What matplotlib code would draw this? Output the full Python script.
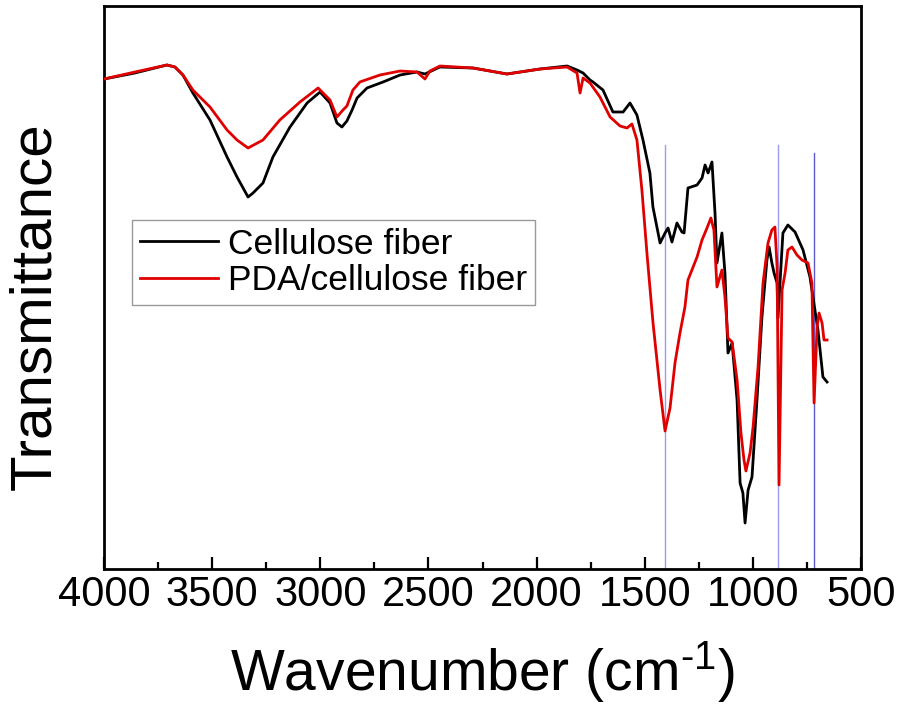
import matplotlib
matplotlib.use("Agg")
import matplotlib.pyplot as plt
from matplotlib.ticker import MultipleLocator

plt.rcParams['font.family'] = ['Liberation Sans', 'DejaVu Sans']
plt.rcParams['mathtext.fontset'] = 'custom'
plt.rcParams['mathtext.rm'] = 'Liberation Sans'
plt.rcParams['mathtext.it'] = 'Liberation Sans'
plt.rcParams['mathtext.default'] = 'regular'

# Wavenumber (cm-1) and transmittance (arbitrary units)
cell_wn = [4000, 3857, 3709, 3672, 3635, 3589, 3510, 3431, 3385, 3334, 3311, 3265, 3219, 3140,
           3061, 3001, 2955, 2923, 2900, 2877, 2853, 2830, 2784, 2710, 2631, 2553, 2516, 2447,
           2294, 2137, 1984, 1859, 1813, 1785, 1753, 1739, 1693, 1647, 1600, 1568, 1536, 1508,
           1476, 1462, 1429, 1406, 1392, 1374, 1351, 1328, 1318, 1300, 1258, 1235, 1221, 1207,
           1189, 1175, 1166, 1143, 1129, 1115, 1096, 1073, 1059, 1046, 1036, 1022, 1004, 981,
           958, 935, 925, 912, 902, 888, 884, 861, 838, 805, 768, 736, 713, 699, 676, 657]
cell_t = [490, 496, 504, 502, 494, 476, 449, 412, 392, 372, 376, 386, 412, 442,
          466, 477, 466, 446, 442, 448, 459, 471, 481, 487, 494, 497, 495, 502,
          501, 495, 500, 503, 499, 496, 489, 487, 479, 457, 457, 466, 454, 429,
          396, 362, 326, 336, 341, 327, 346, 337, 336, 381, 384, 391, 404, 396,
          407, 356, 306, 336, 296, 216, 226, 169, 86, 76, 46, 79, 92, 169,
          252, 309, 322, 306, 296, 286, 251, 336, 344, 337, 319, 292, 259, 239, 192, 187]

pda_wn = [4000, 3857, 3709, 3672, 3635, 3589, 3510, 3431, 3385, 3334, 3265, 3187, 3094, 3010,
          2955, 2923, 2895, 2877, 2849, 2817, 2724, 2631, 2553, 2516, 2493, 2447, 2294, 2137,
          1984, 1859, 1813, 1799, 1785, 1753, 1707, 1660, 1614, 1582, 1559, 1536, 1513, 1489,
          1462, 1429, 1406, 1383, 1360, 1337, 1314, 1300, 1258, 1235, 1212, 1194, 1180, 1166,
          1143, 1129, 1115, 1096, 1073, 1055, 1041, 1032, 1013, 999, 976, 953, 930, 912,
          898, 888, 879, 865, 851, 838, 819, 796, 773, 745, 727, 717, 703, 694, 680, 671, 657]
pda_t = [490, 497, 504, 502, 494, 479, 462, 439, 429, 421, 429, 449, 467, 481,
         469, 452, 459, 463, 479, 487, 494, 498, 497, 490, 498, 503, 501, 495,
         500, 502, 496, 476, 491, 486, 472, 452, 443, 441, 445, 429, 379, 314,
         247, 179, 138, 161, 206, 236, 262, 289, 312, 329, 341, 351, 339, 282,
         299, 272, 231, 227, 189, 136, 109, 98, 116, 142, 202, 286, 326, 339,
         342, 302, 84, 279, 296, 319, 322, 314, 309, 306, 286, 166, 242, 256, 246, 229, 229]

marker_wn = [1406, 884, 716]
marker_top = [424, 424, 416]
marker_colors = ['#9a9af0', '#9a9af0', '#5a5ac8']

series_labels = ['Cellulose fiber', 'PDA/cellulose fiber']
series_colors = ['#000000', '#e00000']

fig = plt.figure(figsize=(9.01, 7.06), dpi=100)
ax = fig.add_axes([104/901, 1-569/706, 757/901, 563/706])

for wn, top, c in zip(marker_wn, marker_top, marker_colors):
    ax.plot([wn, wn], [0, top], color=c, lw=1.0, zorder=1)

ax.plot(cell_wn, cell_t, color=series_colors[0], lw=2.0, label=series_labels[0], zorder=3)
ax.plot(pda_wn, pda_t, color=series_colors[1], lw=2.0, label=series_labels[1], zorder=4)

ax.set_xlim(4000, 500)
ax.set_ylim(0, 563)
ax.xaxis.set_major_locator(MultipleLocator(500))
ax.xaxis.set_minor_locator(MultipleLocator(250))
ax.tick_params(axis='x', which='major', direction='in', length=9, width=1.6,
               labelsize=30, pad=4, top=False)
ax.tick_params(axis='x', which='minor', direction='in', length=5, width=1.6, top=False)
ax.set_yticks([])
for s in ax.spines.values():
    s.set_linewidth(2.0)

fig.text(482.5/901, 1-690/706, r'Wavenumber (cm$^{\text{-}1}$)', fontsize=41,
         ha='center', va='baseline')
fig.text(35/901, 1-306/706, 'Transmittance', fontsize=42, rotation=90,
         ha='center', va='center')

leg = ax.legend(loc='upper left', bbox_to_anchor=(132/901, 1-220/706),
                bbox_transform=fig.transFigure, borderaxespad=0, fontsize=25.5,
                frameon=True, fancybox=False, edgecolor='#808080',
                handlelength=2.2, handletextpad=0.3, borderpad=0.22,
                labelspacing=0.1)
leg.get_frame().set_linewidth(1.0)

fig.savefig('out.png', dpi=100)
